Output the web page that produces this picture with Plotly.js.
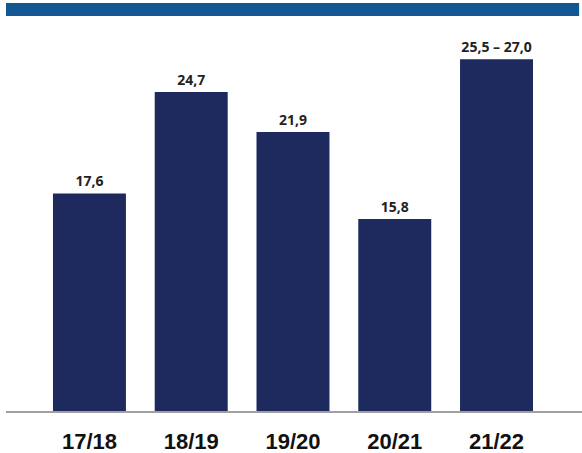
<!DOCTYPE html>
<html>
<head>
<meta charset="utf-8">
<script src="https://cdn.plot.ly/plotly-3.0.1.min.js"></script>
<style>html,body{margin:0;padding:0;background:#fff;}#chart{width:582px;height:453px;}</style>
</head>
<body>
<div id="chart"></div>
<script>
const categories = ["17/18", "18/19", "19/20", "20/21", "21/22"];
const values = [17.6, 24.7, 21.9, 15.8, 27.0];
const labels = ["17,6", "24,7", "21,9", "15,8", "25,5 – 27,0"];

const trace = {
  type: "bar",
  x: categories,
  y: values,
  text: labels,
  textposition: "outside",
  cliponaxis: false,
  textfont: {family: "Open Sans, sans-serif", size: 14, color: "#222222", weight: 700},
  marker: {color: "#1e2a5e"},
  width: 0.717,
  hoverinfo: "skip"
};

const layout = {
  width: 582,
  height: 453,
  margin: {l: 6, r: 0, t: 30, b: 42},
  paper_bgcolor: "#ffffff",
  plot_bgcolor: "#ffffff",
  showlegend: false,
  xaxis: {
    type: "category",
    range: [-0.82, 4.84],
    showgrid: false,
    zeroline: false,
    showline: true,
    linecolor: "#a0a0a0",
    linewidth: 1.5,
    ticks: "",
    ticklabelstandoff: 10,
    tickfont: {family: "Liberation Sans, Arial, sans-serif", size: 22, color: "#111111", weight: 700}
  },
  yaxis: {
    range: [2.35, 29.05],
    showgrid: false,
    zeroline: false,
    showline: false,
    showticklabels: false,
    ticks: ""
  },
  shapes: [{
    type: "rect",
    xref: "paper", yref: "paper",
    x0: 0, x1: 0.995, y0: 1.0367, y1: 1.0709,
    fillcolor: "#135892",
    line: {width: 0}
  }]
};

Plotly.newPlot("chart", [trace], layout, {displayModeBar: false, staticPlot: true});
</script>
</body>
</html>
